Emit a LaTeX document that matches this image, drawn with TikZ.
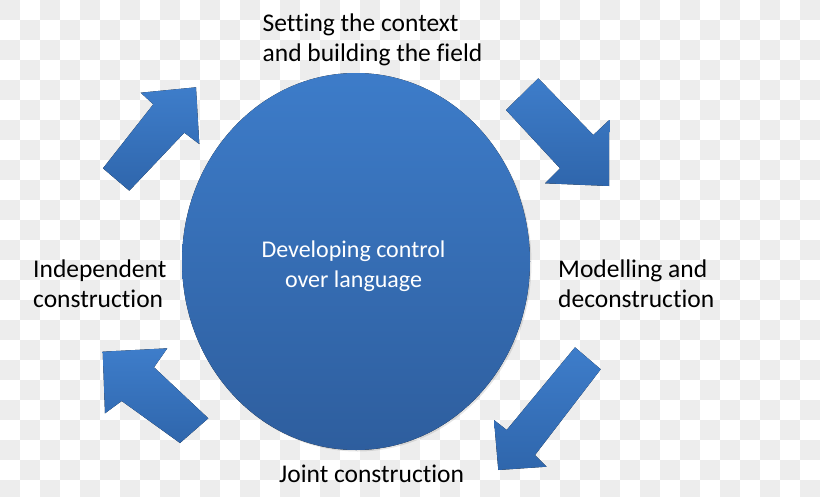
\documentclass[tikz,border=0pt]{standalone}
\usepackage{fontspec}
\setmainfont{Carlito}[Ligatures=NoCommon]
\usepackage{tikz}
\usetikzlibrary{positioning}
\definecolor{chkc}{HTML}{EDEDED}
\definecolor{blobtop}{HTML}{3D7CC9}
\definecolor{blobbot}{HTML}{2E5E9E}
\definecolor{arrtop}{HTML}{3E7DCA}
\definecolor{arrbot}{HTML}{2F66AC}
\tikzset{
  blk/.style={top color=arrtop,bottom color=arrbot,draw=none},
  shd/.style={fill=black,opacity=0.10,draw=none},
  lbl/.style={font=\fontsize{25.5}{30}\selectfont,align=left,inner sep=0pt,anchor=north west}
}

\begin{document}
\begin{tikzpicture}[x=1pt,y=-1pt]
\useasboundingbox (0,0) rectangle (820,496);
% checker background
\begin{scope}
\clip (0,0) rectangle (820,496);
\foreach \i in {0,2,...,40}{\foreach \j in {0,2,...,24}{\fill[chkc] (\i*20,\j*20) rectangle ++(20,20);}}
\foreach \i in {1,3,...,39}{\foreach \j in {1,3,...,23}{\fill[chkc] (\i*20,\j*20) rectangle ++(20,20);}}
\end{scope}

% centre blob
\fill[shd] (357.5,263) ellipse (174pt and 188.5pt);
\fill[top color=blobtop,bottom color=blobbot] (356,261.5) ellipse (174pt and 188.5pt);

% block arrows
\fill[blk] (103,168.3) -- (153.3,104.3) -- (140.7,92.7) -- (196,87.3) -- (199.3,144) -- (184.3,132.7) -- (129.3,190.7) -- cycle;
\fill[blk] (538.3,78.3) -- (593.3,135) -- (609.3,120) -- (609,186) -- (545,183.3) -- (560,168.3) -- (506,110) -- cycle;
\fill[blk] (102.7,351.7) -- (167.3,348.3) -- (154,367.3) -- (208.3,418.3) -- (180,443) -- (121.7,401) -- (105,413.3) -- cycle;
\fill[blk] (575,347.3) -- (600.7,369.3) -- (535,455) -- (546.7,466.7) -- (498.3,470) -- (494,420) -- (506.7,430) -- cycle;

% labels
\node[lbl] (ctx) at (262.5,14) {Setting the context\\and building the field};
\node[lbl,font=\fontsize{24}{30}\selectfont,align=center,anchor=north,text=white] (core) at (353.5,240.5) {Developing control\\over language};
\node[lbl] (ind) at (33,260) {Independent\\construction};
\node[lbl] (mod) at (558,260) {Modelling and\\deconstruction};
\node[lbl] (joint) at (279,465) {Joint construction};
\end{tikzpicture}
\end{document}
